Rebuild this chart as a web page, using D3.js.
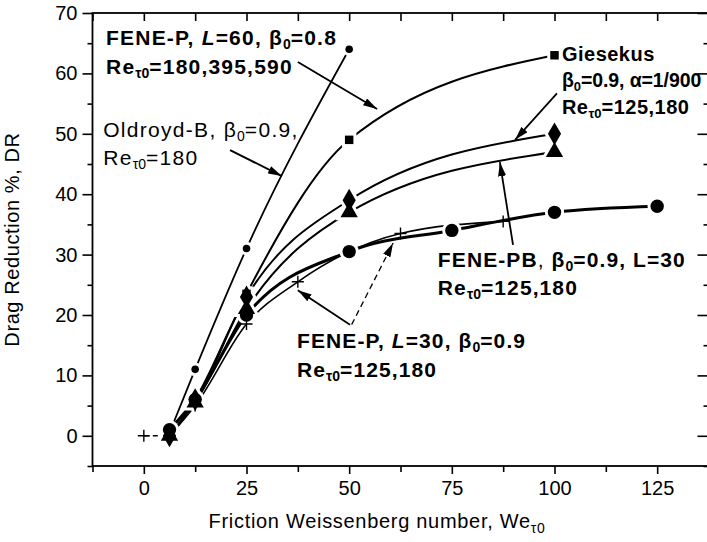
<!DOCTYPE html>
<html><head><meta charset="utf-8">
<script src="https://cdn.jsdelivr.net/npm/d3@7"></script>
<style>
html,body{margin:0;padding:0;background:#fff;}
svg{display:block;font-family:"Liberation Sans",Arial,sans-serif;}
</style></head>
<body><svg id="c" width="707" height="542"></svg>
<script>
// ---- data ----
const oldroydX = [6.25, 12.5, 25, 50];
const oldroydY = [0.5, 11, 31, 64];
const feneP60X = [6.25, 12.5, 25, 50, 100];
const feneP60Y = [0, 5.5, 23.5, 49, 63];
const giesekusX = [6.25, 12.5, 25, 50, 100];
const giesekusY = [0, 6, 23, 39, 50];
const fenePBX = [6.25, 12.5, 25, 50, 100];
const fenePBY = [0, 5.5, 21, 37, 47];
const feneP30X = [6.25, 12.5, 25, 50, 75, 100, 125];
const feneP30Y = [1, 6, 20, 30.5, 34, 37, 38];
const feneP30bX = [0, 6.25, 12.5, 25, 37.5, 62.5, 87.5];
const feneP30bY = [0, 0, 5, 18.5, 25.5, 33.5, 35.5];
const xTicks = [0, 25, 50, 75, 100, 125];
const yTicks = [0, 10, 20, 30, 40, 50, 60, 70];

const svg = d3.select('#c');
const x = d3.scaleLinear([-12.5, 137.5], [92.5, 708.5]);
const y = d3.scaleLinear([-5, 70], [466, 13]);
const zip = (a, b) => a.map((v, i) => [v, b[i]]);

const FS = 20;
// axes
const gx = svg.append('g').attr('transform', `translate(0,${y(-5)})`)
  .call(d3.axisBottom(x).tickValues(xTicks).tickSize(8).tickPadding(7).tickFormat(d3.format('d')));
const gxm = svg.append('g').attr('transform', `translate(0,${y(-5)})`)
  .call(d3.axisBottom(x).tickValues(d3.range(-12.5, 138, 25)).tickSize(6).tickFormat(''));
const gxt = svg.append('g').attr('transform', `translate(0,${y(70)})`)
  .call(d3.axisBottom(x).tickValues(d3.range(-12.5, 138, 12.5)).tickSize(8).tickFormat(''));
const gy = svg.append('g').attr('transform', `translate(${x(-12.5)},0)`)
  .call(d3.axisLeft(y).tickValues(yTicks).tickSize(10).tickPadding(5).tickFormat(d3.format('d')));
const gym = svg.append('g').attr('transform', `translate(${x(-12.5)},0)`)
  .call(d3.axisLeft(y).tickValues(d3.range(-5, 71, 10)).tickSize(5).tickFormat(''));
const gyr = svg.append('g').attr('transform', `translate(${x(137.5)},0)`)
  .call(d3.axisRight(y).tickValues(yTicks).tickSize(-11).tickFormat(''));
const gyrm = svg.append('g').attr('transform', `translate(${x(137.5)},0)`)
  .call(d3.axisRight(y).tickValues(d3.range(-5, 71, 10)).tickSize(-5).tickFormat(''));
[gx, gxm, gxt, gy, gym, gyr, gyrm].forEach(g => {
  g.selectAll('.domain').remove();
  g.selectAll('line').attr('stroke', '#000').attr('stroke-width', 1.6);
  g.selectAll('text').attr('font-size', FS).attr('fill', '#000').attr('font-family', '"Liberation Sans",Arial,sans-serif');
});
svg.append('rect').attr('x', x(-12.5)).attr('y', y(70)).attr('width', x(137.5) - x(-12.5)).attr('height', y(-5) - y(70))
  .attr('fill', 'none').attr('stroke', '#000').attr('stroke-width', 1.8);

// axis titles
const xt = svg.append('text').attr('x', 377).attr('y', 528).attr('text-anchor', 'middle')
  .attr('font-size', FS).attr('letter-spacing', 0.7);
xt.append('tspan').text('Friction Weissenberg number, We');
xt.append('tspan').text('τ0').attr('font-size', 14).attr('dy', 5);
svg.append('text').attr('transform', `translate(19,${(y(70) + y(-5)) / 2}) rotate(-90)`)
  .attr('text-anchor', 'middle').attr('font-size', FS).attr('letter-spacing', 0.6).text('Drag Reduction %, DR');

// lines
const line = d3.line().x(d => x(d[0])).y(d => y(d[1])).curve(d3.curveMonotoneX);
const lg = svg.append('g').attr('fill', 'none').attr('stroke', '#000');
lg.append('path').attr('d', line(zip(oldroydX, oldroydY))).attr('stroke-width', 1.8);
lg.append('path').attr('d', line(zip(feneP60X, feneP60Y))).attr('stroke-width', 2);
lg.append('path').attr('d', line(zip(giesekusX, giesekusY))).attr('stroke-width', 2);
lg.append('path').attr('d', line(zip(fenePBX, fenePBY))).attr('stroke-width', 2);
lg.append('path').attr('d', line(zip(feneP30X, feneP30Y))).attr('stroke-width', 3);
const cb = zip(feneP30bX, feneP30bY);
lg.append('path').attr('d', line(cb.slice(1))).attr('stroke-width', 1.6);
lg.append('path').attr('d', line(cb.slice(0, 2))).attr('stroke-width', 1.6).attr('stroke-dasharray', '5,4');

// markers
const sym = {
  square: d3.symbol().type(d3.symbolSquare).size(72),
  diamond: d3.symbol().type(d3.symbolDiamond).size(150),
  triangle: d3.symbol().type(d3.symbolTriangle).size(130),
  smallc: d3.symbol().type(d3.symbolCircle).size(45),
  bigc: d3.symbol().type(d3.symbolCircle).size(140)
};
const series = [
  [feneP60X, feneP60Y, 'square'],
  [fenePBX, fenePBY, 'triangle'],
  [giesekusX, giesekusY, 'diamond'],
  [oldroydX, oldroydY, 'smallc'],
  [feneP30X, feneP30Y, 'bigc'],
];
const mg = svg.append('g');
series.forEach(([xs, ys, t]) => {
  mg.selectAll(null).data(zip(xs, ys)).join('path')
    .attr('d', sym[t]()).attr('transform', d => `translate(${x(d[0])},${y(d[1])})`)
    .attr('fill', '#fff').attr('stroke', '#fff').attr('stroke-width', 6);
});
series.forEach(([xs, ys, t]) => {
  mg.selectAll(null).data(zip(xs, ys)).join('path')
    .attr('d', sym[t]()).attr('transform', d => `translate(${x(d[0])},${y(d[1])})`)
    .attr('fill', '#000');
});
mg.selectAll(null).data(cb).join('path')
  .attr('d', 'M-6,0H6M0,-6V6').attr('transform', d => `translate(${x(d[0])},${y(d[1])})`)
  .attr('stroke', '#000').attr('stroke-width', 1.4).attr('fill', 'none');

// annotations
const defs = svg.append('defs');
defs.append('marker').attr('id', 'ah').attr('viewBox', '0 0 14 8').attr('refX', 14).attr('refY', 4)
  .attr('markerWidth', 14).attr('markerHeight', 8).attr('markerUnits', 'userSpaceOnUse').attr('orient', 'auto')
  .append('path').attr('d', 'M0,0L14,4L0,8Z').attr('fill', '#000');

function arrow(a, b, dashed) {
  const p = svg.append('line').attr('x1', x(a[0])).attr('y1', y(a[1])).attr('x2', x(b[0])).attr('y2', y(b[1]))
    .attr('stroke', '#000').attr('stroke-width', 1.8).attr('marker-end', 'url(#ah)');
  if (dashed) p.attr('stroke-dasharray', '6,4').attr('stroke-width', 1.3);
}
function rich(pos, dyLine, parts, bold, size, ls) {
  const t = svg.append('text').attr('x', x(pos[0])).attr('y', y(pos[1]) + dyLine)
    .attr('font-size', size).attr('font-weight', bold ? 'bold' : 'normal').attr('letter-spacing', ls);
  let sub = false;
  const ss = Math.round(size * 0.66);
  parts.forEach(p => {
    const s = t.append('tspan').text(p.t);
    if (p.i) s.attr('font-style', 'italic');
    if (p.n) s.attr('font-weight', 'normal');
    if (p.s && !sub) { s.attr('font-size', ss).attr('dy', 4).attr('letter-spacing', 0); sub = true; }
    else if (!p.s && sub) { s.attr('dy', -4); sub = false; }
  });
}
const ann1 = [-9.2, 64.7];
rich(ann1, 0, [{t: 'FENE-P, '}, {t: 'L', i: 1}, {t: '=60, β'}, {t: '0', s: 1}, {t: '=0.8'}], true, 21, 1.2);
rich(ann1, 29, [{t: 'Re'}, {t: 'τ0', s: 1}, {t: '=180,395,590'}], true, 21, 1.2);
arrow([37.5, 61.9], [56.8, 54.1]);

const ann3 = [101.8, 62.0];
rich(ann3, 0, [{t: 'Giesekus'}], true, 20, 0.5);
rich(ann3, 26, [{t: 'β'}, {t: '0', s: 1}, {t: '=0.9, α=1/900'}], true, 19.5, -0.1);
rich(ann3, 53, [{t: 'Re'}, {t: 'τ0', s: 1}, {t: '=125,180'}], true, 20, 0.5);
arrow([100.6, 56.7], [90.4, 49.0]);

const ann2 = [-9.9, 49.5];
rich(ann2, 0, [{t: 'Oldroyd-B, β'}, {t: '0', s: 1}, {t: '=0.9,'}], false, 21, 1.3);
rich(ann2, 28, [{t: 'Re'}, {t: 'τ0', s: 1}, {t: '=180'}], false, 21, 1.3);
arrow([21.0, 47.3], [33.6, 43.0]);

const ann4 = [71.6, 28.0];
rich(ann4, 0, [{t: 'FENE-PB'}, {t: ', ', n: 1}, {t: 'β'}, {t: '0', s: 1}, {t: '=0.9, L=30'}], true, 21, 1.1);
rich(ann4, 28, [{t: 'Re'}, {t: 'τ0', s: 1}, {t: '=125,180'}], true, 21, 1.1);
arrow([89.9, 31.6], [86.7, 45.3]);

const ann5 = [37.3, 14.6];
rich(ann5, 0, [{t: 'FENE-P, '}, {t: 'L', i: 1}, {t: '=30, β'}, {t: '0', s: 1}, {t: '=0.9'}], true, 21, 1.1);
rich(ann5, 29, [{t: 'Re'}, {t: 'τ0', s: 1}, {t: '=125,180'}], true, 21, 1.1);
arrow([50.2, 18.4], [37.5, 24.1]);
arrow([50.6, 18.4], [60.7, 31.9], true);
</script></body></html>
